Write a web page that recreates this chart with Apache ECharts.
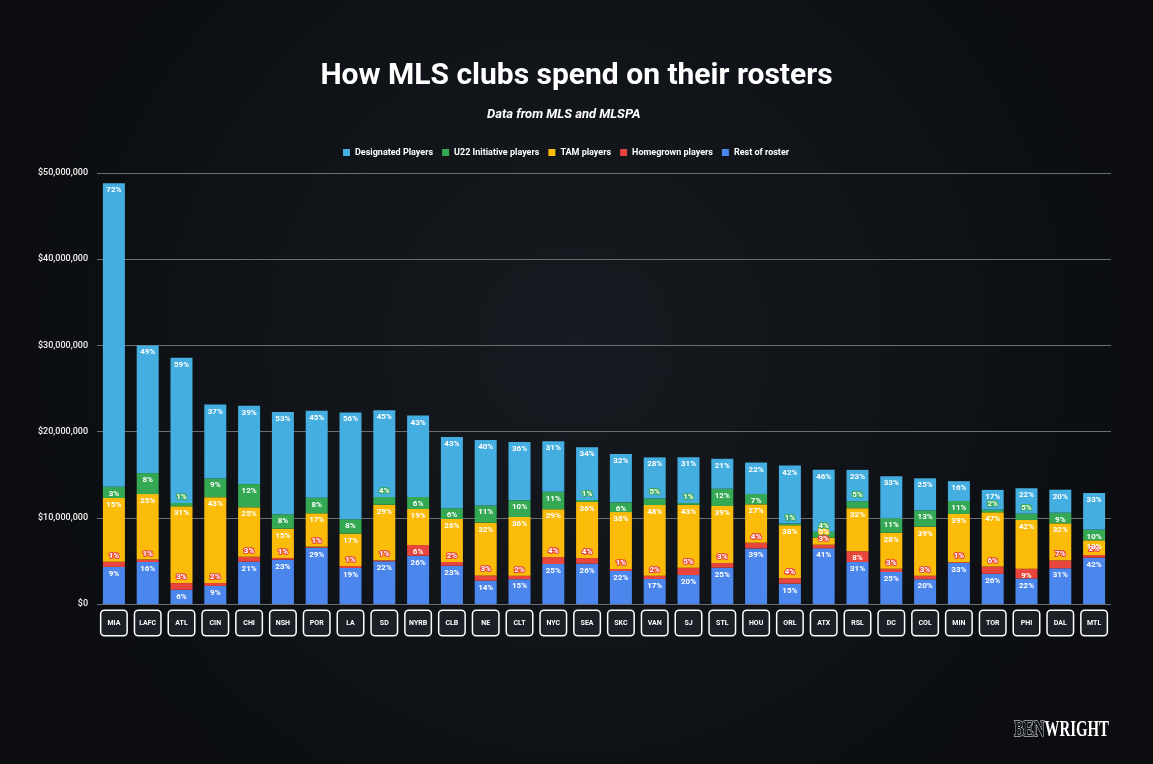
<!DOCTYPE html>
<html>
<head>
<meta charset="utf-8">
<script src="https://cdn.jsdelivr.net/npm/echarts@6/dist/echarts.min.js"></script>
<style>
  html, body { margin: 0; padding: 0; background: #0e1115; }
  #main { width: 1153px; height: 764px; }
</style>
</head>
<body>
<div id="main"></div>
<script>
// team order as in the chart (logos shown as short names)
var teams = ['MIA', 'LAFC', 'ATL', 'CIN', 'CHI', 'NSH', 'POR', 'LA', 'SD', 'NYRB',
             'CLB', 'NE', 'CLT', 'NYC', 'SEA', 'SKC', 'VAN', 'SJ', 'STL', 'HOU',
             'ORL', 'ATX', 'RSL', 'DC', 'COL', 'MIN', 'TOR', 'PHI', 'DAL', 'MTL'];

// spending in millions of dollars
var restOfRoster = [4.3, 4.87, 1.65, 2.1, 4.9, 5.14, 6.53, 4.18, 4.95, 5.6,
                    4.44, 2.7, 2.87, 4.64, 4.68, 3.83, 2.9, 3.36, 4.21, 6.45,
                    2.36, 6.46, 4.87, 3.71, 2.87, 4.76, 3.5, 2.95, 4.14, 5.37];
var homegrown = [0.6, 0.28, 0.78, 0.35, 0.58, 0.2, 0.12, 0.23, 0.12, 1.24,
                 0.43, 0.62, 0.42, 0.81, 0.66, 0.23, 0.38, 0.85, 0.55, 0.66,
                 0.63, 0.42, 1.25, 0.38, 0.42, 0.08, 0.85, 1.15, 0.93, 0.31];
var tamPlayers = [7.4, 7.6, 8.9, 9.94, 5.73, 3.4, 3.87, 3.75, 6.45, 4.18,
                  5.0, 6.11, 6.8, 5.53, 6.5, 6.6, 8.2, 7.3, 6.61, 4.45,
                  6.15, 0.81, 5.0, 4.18, 5.68, 5.6, 6.28, 5.65, 4.29, 1.71];
var u22Players = [1.3, 2.44, 0.39, 2.17, 2.7, 1.67, 1.81, 1.67, 0.89, 1.39,
                  1.24, 2.0, 1.94, 2.05, 0.23, 1.13, 0.77, 0.2, 2.0, 1.2,
                  0.19, 0.7, 0.81, 1.67, 1.9, 1.51, 0.31, 0.73, 1.23, 1.23];
var designated = [35.2, 14.8, 16.86, 8.58, 9.08, 11.85, 10.1, 12.4, 10.06, 9.45,
                  8.25, 7.6, 6.76, 5.85, 6.11, 5.6, 4.76, 5.3, 3.48, 3.65,
                  6.73, 7.19, 3.63, 4.87, 3.71, 2.3, 2.3, 2.95, 2.67, 4.26];

var yTicks = [0, 10000000, 20000000, 30000000, 40000000, 50000000];

var totals = teams.map(function (t, i) {
    return restOfRoster[i] + homegrown[i] + tamPlayers[i] + u22Players[i] + designated[i];
});

var myChart = echarts.init(document.getElementById('main'));

function makeSeries(name, values, color) {
    return {
        name: name,
        type: 'bar',
        stack: 'total',
        barWidth: 22,
        animation: false,
        itemStyle: { color: color },
        data: values.map(function (v, i) {
            // thin slices get their label pushed above the slice, like the original
            var small = v < 1.0;
            return {
                value: v * 1000000,
                label: small
                    ? { position: 'top', distance: 2, textBorderColor: color, textBorderWidth: 2 }
                    : { position: 'insideTop', distance: 3 }
            };
        }),
        label: {
            show: true,
            color: '#fff',
            fontSize: 8,
            fontWeight: 'bold',
            fontFamily: 'Roboto',
            formatter: function (p) {
                return Math.round(p.value / 1000000 / totals[p.dataIndex] * 100) + '%';
            }
        }
    };
}

function money(v) {
    return '$' + v.toString().replace(/\B(?=(\d{3})+(?!\d))/g, ',');
}

myChart.setOption({
    backgroundColor: {
        type: 'radial', x: 0.5, y: 0.45, r: 0.75,
        colorStops: [
            { offset: 0, color: '#161b21' },
            { offset: 1, color: '#0b0d10' }
        ]
    },
    textStyle: { fontFamily: 'Roboto' },
    title: [{
        text: 'How MLS clubs spend on their rosters',
        left: 'center',
        top: 56,
        textStyle: { color: '#fff', fontSize: 30, fontWeight: 'bold', fontFamily: 'Roboto' }
    }, {
        text: 'Data from MLS and MLSPA',
        left: 482,
        top: 103,
        textStyle: { color: '#fff', fontSize: 13, fontWeight: 'bold', fontStyle: 'italic', fontFamily: 'Roboto' }
    }],
    legend: {
        top: 143,
        left: 338,
        itemWidth: 7,
        itemHeight: 7,
        itemGap: 9,
        icon: 'rect',
        data: ['Designated Players', 'U22 Initiative players', 'TAM players', 'Homegrown players', 'Rest of roster'],
        textStyle: { color: '#fff', fontSize: 9, fontWeight: 'bold', fontFamily: 'Roboto' }
    },
    grid: { left: 97, right: 42, top: 173, bottom: 160 },
    xAxis: {
        type: 'category',
        data: teams,
        axisLine: { show: false },
        axisTick: { show: false },
        axisLabel: {
            interval: 0,
            margin: 8,
            formatter: function (v) { return '{b|' + v + '}'; },
            rich: {
                b: {
                    width: 23,
                    height: 22,
                    lineHeight: 22,
                    align: 'center',
                    color: '#fff',
                    fontSize: 7,
                    fontWeight: 'bold',
                    backgroundColor: '#1c2026',
                    borderColor: '#ffffff',
                    borderWidth: 1.5,
                    borderRadius: 3,
                    padding: [1, 1]
                }
            }
        }
    },
    yAxis: {
        type: 'value',
        min: yTicks[0],
        max: yTicks[yTicks.length - 1],
        interval: yTicks[1] - yTicks[0],
        axisLabel: {
            color: '#f0f0f0',
            fontSize: 9,
            fontWeight: 500,
            margin: 9,
            formatter: function (v) { return money(v); }
        },
        splitLine: { lineStyle: { color: '#6b6e73', width: 1 } }
    },
    series: [
        makeSeries('Rest of roster', restOfRoster, '#4a86ec'),
        makeSeries('Homegrown players', homegrown, '#e8453c'),
        makeSeries('TAM players', tamPlayers, '#fbbc09'),
        makeSeries('U22 Initiative players', u22Players, '#35a853'),
        makeSeries('Designated Players', designated, '#44aee0')
    ],
    graphic: [{
        type: 'text',
        right: 44,
        bottom: 22,
        scaleX: 0.62,
        style: {
            text: '{a|BEN}{b|WRIGHT}',
            rich: {
                a: { fill: '#0e1115', stroke: '#ffffff', lineWidth: 1, fontSize: 24, fontWeight: 'bold', fontFamily: 'Liberation Sans Narrow' },
                b: { fill: '#ffffff', fontSize: 24, fontWeight: 'bold', fontFamily: 'Liberation Sans Narrow' }
            }
        }
    }]
});
</script>
</body>
</html>
